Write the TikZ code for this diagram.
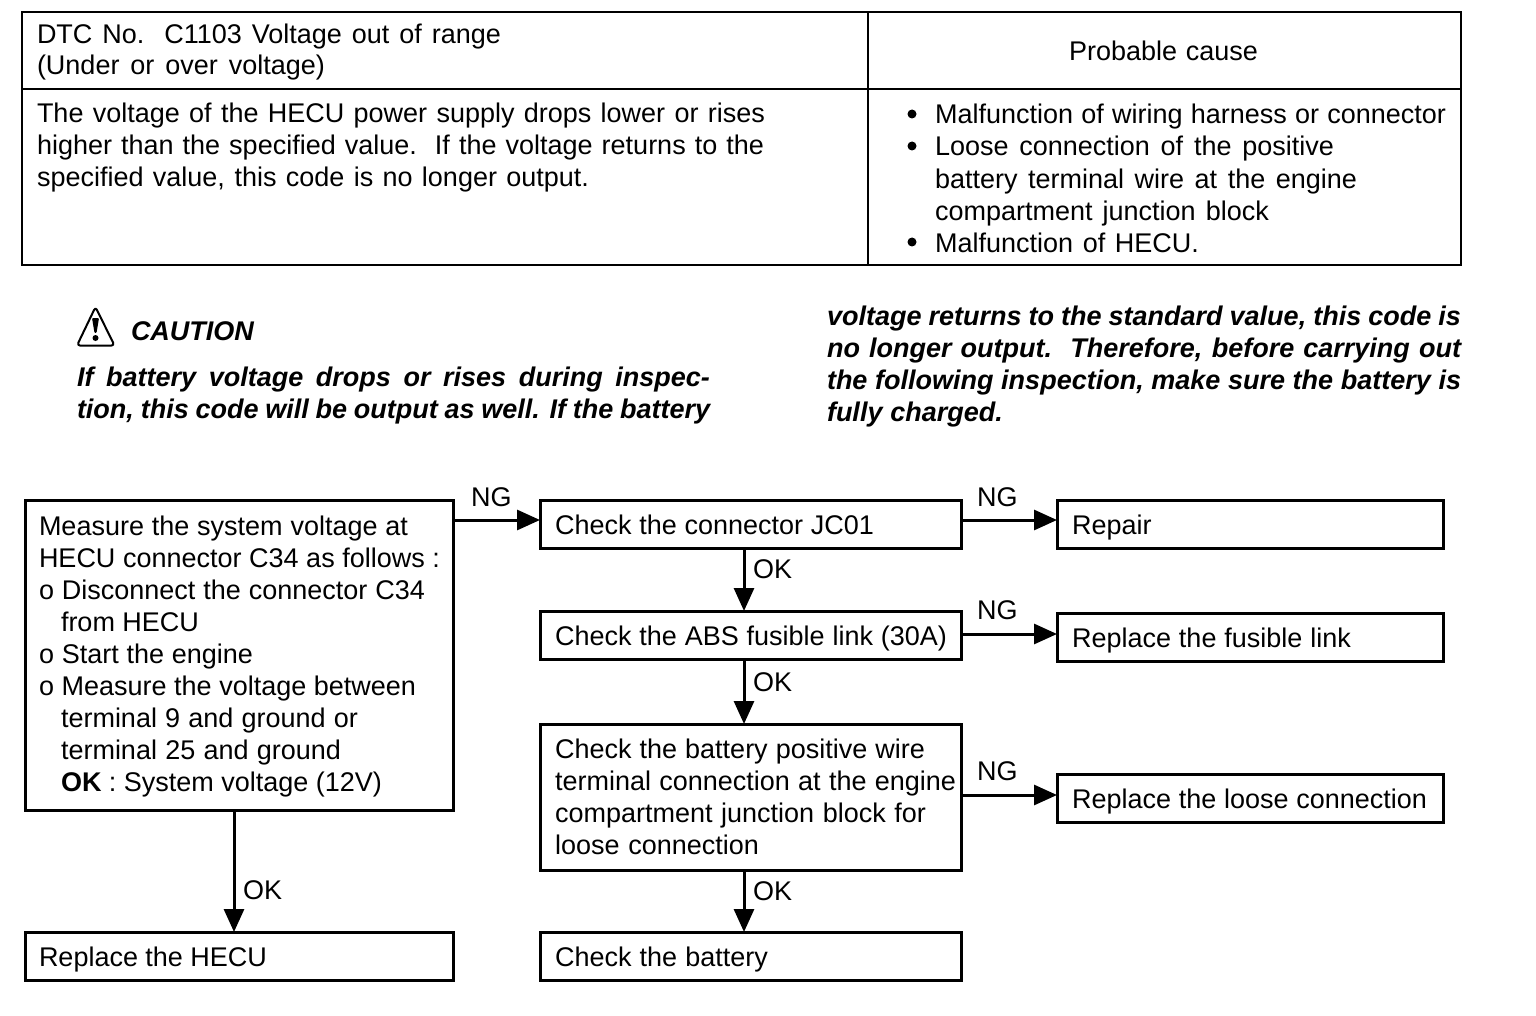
\documentclass[tikz,border=0pt]{standalone}
\usepackage{fontspec}
\setmainfont{Liberation Sans}
\usetikzlibrary{arrows.meta}
\newcommand{\bodyfont}{\fontsize{27}{32}\selectfont}
% a line of text set to a given width by its word spaces
\newcommand{\fitline}[2]{\hbox to #1pt{\spaceskip=.278em plus 1fil minus .2em\relax #2}}
\newcommand{\tline}[5]{\node[lab] (#1) at (#2,#3) {\fitline{#4}{#5}};}
\newcommand{\wline}[5]{\node[warn] (#1) at (#2,#3) {\fitline{#4}{#5}};}
\tikzset{
  x=1pt,y=-1pt,
  every node/.style={inner sep=0pt,outer sep=0pt},
  boxn/.style={draw=black,line width=3pt,anchor=north west},
  wide/.style={boxn,minimum width=421pt},
  right box/.style={boxn,minimum width=386pt,minimum height=48pt},
  conn/.style={line width=3pt,-{Triangle[length=23pt,width=20pt]}},
  lab/.style={font=\bodyfont,anchor=base west},
  warn/.style={font=\bodyfont\bfseries\itshape,anchor=base west},
  rulel/.style={line width=2.5pt}
}
\begin{document}
\begin{tikzpicture}
\useasboundingbox (0,0) rectangle (1536,1016);
% table
\coordinate (tl) at (22,12); \coordinate (tr) at (1461,12);
\coordinate (br) at (1461,265); \coordinate (bl) at (22,265);
\coordinate (ml) at (22,89); \coordinate (mr) at (1461,89);
\coordinate (ct) at (868,12); \coordinate (cb) at (868,265);
\draw[rulel] (tl) -- (tr) -- (br) -- (bl) -- cycle;
\draw[rulel] (ml) -- (mr);
\draw[rulel] (ct) -- (cb);
\tline{t1}{37}{44}{464}{DTC No.\ \ C1103 Voltage out of range}
\tline{t2}{37}{75}{288}{(Under or over voltage)}
\tline{t3}{1069}{61}{189}{Probable cause}
\tline{t4}{37}{123}{728}{The voltage of the HECU power supply drops lower or rises}
\tline{t5}{37}{155}{727}{higher than the specified value.\ \ If the voltage returns to the}
\tline{t6}{37}{187}{552}{specified value, this code is no longer output.}
\tline{c1}{935}{124}{511}{Malfunction of wiring harness or connector}
\tline{c2}{935}{156}{399}{Loose connection of the positive}
\tline{c3}{935}{188.5}{422}{battery terminal wire at the engine}
\tline{c4}{935}{220.5}{334}{compartment junction block}
\tline{c5}{935}{252.5}{264}{Malfunction of HECU.}
\foreach \y in {114,146,242}{
  \fill (912,\y) circle (4.5pt);
}
% caution
\coordinate (w1) at (95.5,307); \coordinate (w2) at (77,345.5); \coordinate (w3) at (114.5,345.5);
\draw[line width=2pt,line join=round,rounded corners=3pt] (w1) -- (w2) -- (w3) -- cycle;
\fill[rounded corners=1pt] (92,318) -- (99,318) -- (96.5,333) -- (94.5,333) -- cycle;
\fill (95.5,338) circle (3pt);
\wline{cau}{131}{340}{122}{CAUTION}
\wline{w1a}{77}{386}{633}{If battery voltage drops or rises during inspec-}
\wline{w1b}{77}{418}{633}{tion, this code will be output as well. If the battery}
\wline{w2a}{827}{325}{634}{voltage returns to the standard value, this code is}
\wline{w2b}{827}{357}{634}{no longer output.\ \ Therefore, before carrying out}
\wline{w2c}{827}{389}{634}{the following inspection, make sure the battery is}
\wline{w2d}{827}{421}{176}{fully charged.}
% boxes
\node[boxn,minimum width=428pt,minimum height=310pt] (m) at (25,500) {};
\tline{m1}{39}{535}{369}{Measure the system voltage at}
\tline{m2}{39}{567}{401}{HECU connector C34 as follows :}
\tline{m3}{39}{599}{386}{o Disconnect the connector C34}
\tline{m4}{61}{631}{138}{from HECU}
\tline{m5}{39}{663}{214}{o Start the engine}
\tline{m6}{39}{695}{377}{o Measure the voltage between}
\tline{m7}{61}{727}{297}{terminal 9 and ground or}
\tline{m8}{61}{759}{280}{terminal 25 and ground}
\tline{m9}{61}{791}{321}{\textbf{OK} : System voltage (12V)}
\node[boxn,minimum width=428pt,minimum height=48pt] (rh) at (25,932) {};
\tline{rh1}{39}{966}{228}{Replace the HECU}
\node[wide,minimum height=48pt] (a) at (540,500) {};
\tline{a1}{555}{534}{319}{Check the connector JC01}
\node[wide,minimum height=48pt] (b) at (540,611) {};
\tline{b1}{555}{645}{392}{Check the ABS fusible link (30A)}
\node[wide,minimum height=146pt] (c) at (540,724) {};
\tline{c6}{555}{758}{370}{Check the battery positive wire}
\tline{c7}{555}{790}{401}{terminal connection at the engine}
\tline{c8}{555}{822}{371}{compartment junction block for}
\tline{c9}{555}{854}{204}{loose connection}
\node[wide,minimum height=48pt] (d) at (540,932) {};
\tline{d1}{555}{966}{213}{Check the battery}
\node[right box] (e) at (1057,500) {};
\tline{e1}{1072}{534}{80}{Repair}
\node[right box] (f) at (1057,613) {};
\tline{f1}{1072}{647}{279}{Replace the fusible link}
\node[right box] (g) at (1057,774) {};
\tline{g1}{1072}{808}{355}{Replace the loose connection}
% connectors
\coordinate (k1) at ([yshift=4pt]a.west);
\coordinate (k2) at ([yshift=4pt]e.west);
\coordinate (k3) at ([yshift=3pt]f.west);
\coordinate (k4) at ([yshift=3pt]g.west);
\draw[conn] (k1 -| m.east) -- (k1);
\draw[conn] (k2 -| a.east) -- (k2);
\draw[conn] (k3 -| b.east) -- (k3);
\draw[conn] (k4 -| c.east) -- (k4);
\draw[conn] ([xshift=-6.5pt]a.south) -- ([xshift=-6.5pt]b.north);
\draw[conn] ([xshift=-6.5pt]b.south) -- ([xshift=-6.5pt]c.north);
\draw[conn] ([xshift=-6.5pt]c.south) -- ([xshift=-6.5pt]d.north);
\draw[conn] ([xshift=-5pt]m.south) -- ([xshift=-5pt]rh.north);
\node[lab] (n1) at (471,506) {NG};
\node[lab] (n2) at (977,506) {NG};
\node[lab] (n3) at (977,619) {NG};
\node[lab] (n4) at (977,780) {NG};
\node[lab] (o1) at (753,578) {OK};
\node[lab] (o2) at (753,691) {OK};
\node[lab] (o3) at (753,900) {OK};
\node[lab] (o4) at (243,899) {OK};
\end{tikzpicture}
\end{document}
